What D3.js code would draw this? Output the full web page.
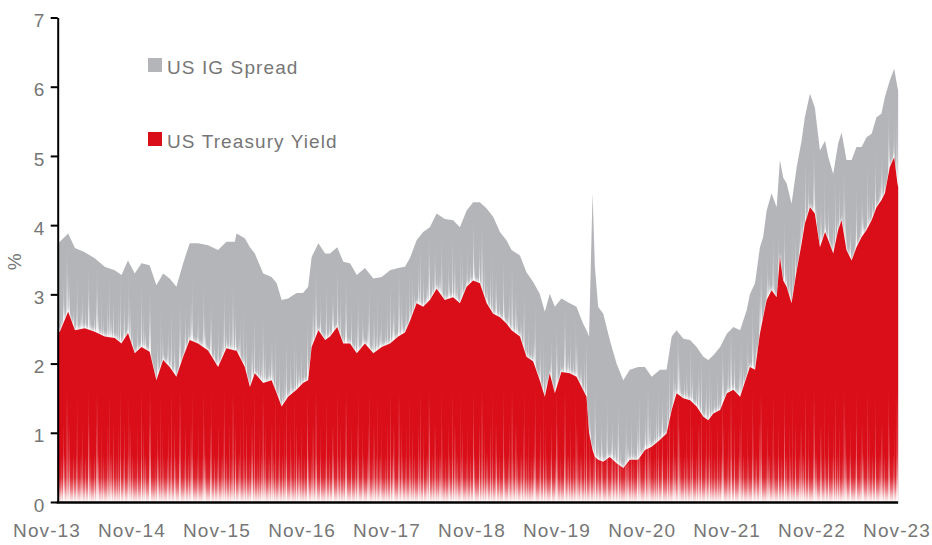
<!DOCTYPE html>
<html>
<head>
<meta charset="utf-8">
<script src="https://cdn.jsdelivr.net/npm/d3@7"></script>
<style>
  body { margin: 0; background: #fff; }
  text { font-family: "Liberation Sans", Arial, Helvetica, sans-serif; }
</style>
</head>
<body>
<svg id="chart" width="932" height="545"></svg>
<script>
// ---- data -------------------------------------------------------------
const dates = [
  "2013-12-17","2013-12-26","2014-01-31","2014-03-01","2014-04-12","2014-05-25","2014-07-07","2014-08-19",
  "2014-09-17","2014-10-15","2014-11-13","2014-12-12","2015-01-16","2015-02-14","2015-03-15","2015-04-12",
  "2015-05-11","2015-06-09","2015-07-07","2015-08-12","2015-09-24","2015-11-06","2015-12-12","2016-01-17",
  "2016-01-24","2016-02-29","2016-03-22","2016-04-12","2016-05-18","2016-06-23","2016-07-15","2016-08-05",
  "2016-09-02","2016-10-08","2016-11-05","2016-11-27","2016-12-12","2017-01-10","2017-02-08","2017-03-01",
  "2017-04-01","2017-04-27","2017-05-26","2017-06-24","2017-07-29","2017-09-03","2017-10-09","2017-11-14",
  "2017-12-19","2018-01-17","2018-02-07","2018-03-08","2018-04-05","2018-05-04","2018-06-02","2018-07-07",
  "2018-08-12","2018-09-10","2018-10-09","2018-11-06","2018-12-05","2019-01-03","2019-01-31","2019-03-01",
  "2019-03-29","2019-04-20","2019-05-26","2019-06-23","2019-07-22","2019-08-19","2019-09-10","2019-10-01",
  "2019-10-23","2019-11-20","2019-12-26","2020-01-24","2020-02-21","2020-03-07","2020-03-18","2020-04-02",
  "2020-04-12","2020-04-26","2020-05-18","2020-06-15","2020-07-14","2020-08-12","2020-09-09","2020-10-15",
  "2020-11-13","2020-12-12","2021-01-17","2021-02-14","2021-03-08","2021-03-29","2021-04-27","2021-05-26",
  "2021-06-23","2021-07-22","2021-08-12","2021-09-03","2021-10-02","2021-10-31","2021-11-28","2021-12-27",
  "2022-01-24","2022-02-07","2022-03-01","2022-03-22","2022-04-05","2022-04-20","2022-05-11","2022-06-02",
  "2022-06-16","2022-06-30","2022-07-15","2022-08-05","2022-08-27","2022-09-17","2022-10-01","2022-10-23",
  "2022-11-13","2022-12-05","2022-12-27","2023-01-10","2023-01-31","2023-02-21","2023-03-08","2023-03-29",
  "2023-04-20","2023-05-11","2023-06-02","2023-06-23","2023-07-15","2023-08-05","2023-08-26","2023-09-10",
  "2023-10-01","2023-10-20","2023-11-03","2023-11-06"
];

// US Treasury yield, %
const treasuryYield = [
  2.46,2.46,2.75,2.48,2.51,2.46,2.39,2.37,
  2.29,2.44,2.15,2.24,2.17,1.76,2.05,1.95,
  1.81,2.10,2.34,2.29,2.19,1.95,2.22,2.19,
  2.19,1.95,1.66,1.86,1.72,1.76,1.57,1.38,
  1.52,1.62,1.72,1.76,2.24,2.48,2.34,2.39,
  2.53,2.29,2.29,2.15,2.29,2.15,2.24,2.29,
  2.39,2.45,2.61,2.87,2.82,2.92,3.08,2.92,
  2.96,2.87,3.11,3.20,3.16,2.87,2.72,2.67,
  2.58,2.48,2.39,2.10,2.03,1.76,1.52,1.86,
  1.57,1.88,1.86,1.81,1.62,1.52,1.00,0.75,
  0.65,0.61,0.58,0.65,0.56,0.49,0.61,0.61,
  0.75,0.80,0.90,0.99,1.33,1.57,1.50,1.47,
  1.38,1.23,1.18,1.28,1.33,1.57,1.62,1.52,
  1.81,1.95,1.91,2.43,2.67,2.92,3.06,2.96,
  3.54,3.20,3.11,2.87,3.35,3.73,4.02,4.26,
  4.17,3.68,3.90,3.78,3.59,3.93,4.07,3.64,
  3.49,3.68,3.83,3.93,4.07,4.26,4.36,4.46,
  4.84,4.98,4.60,4.55
];

// US IG spread over Treasuries, %
const igSpread = [
  1.26,1.30,1.13,1.19,1.10,1.06,1.01,0.98,
  0.99,1.05,1.15,1.21,1.25,1.37,1.25,1.28,
  1.30,1.35,1.40,1.45,1.52,1.69,1.54,1.57,
  1.69,1.86,2.02,1.73,1.58,1.49,1.59,1.54,
  1.42,1.40,1.30,1.35,1.30,1.26,1.25,1.20,
  1.15,1.18,1.16,1.13,1.09,1.08,1.01,1.06,
  0.99,0.95,0.91,0.91,1.08,1.05,1.09,1.17,
  1.11,1.10,1.10,1.13,1.17,1.37,1.40,1.23,
  1.20,1.16,1.17,1.22,1.15,1.25,1.23,1.15,
  1.25,1.06,1.01,1.01,0.96,0.96,1.39,3.71,
  2.75,2.21,2.14,1.69,1.44,1.27,1.30,1.34,
  1.20,1.01,1.01,0.92,1.06,0.91,0.86,0.87,
  0.86,0.87,0.87,0.84,0.91,0.86,0.91,0.96,
  0.96,1.05,1.25,1.25,1.16,1.29,1.40,1.30,
  1.40,1.49,1.49,1.44,1.49,1.49,1.54,1.64,
  1.53,1.40,1.32,1.20,1.15,1.25,1.27,1.30,
  1.45,1.45,1.30,1.34,1.25,1.30,1.25,1.39,
  1.25,1.28,1.39,1.40
];

const yTicks = [0, 1, 2, 3, 4, 5, 6, 7];
const xTickLabels = ["Nov-13","Nov-14","Nov-15","Nov-16","Nov-17","Nov-18","Nov-19","Nov-20","Nov-21","Nov-22","Nov-23"];
const seriesKeys = ["treasury", "spread"];
const seriesNames = { spread: "US IG Spread", treasury: "US Treasury Yield" };
const seriesColors = { spread: "#b4b5b9", treasury: "#da0e19" };

// ---- setup ------------------------------------------------------------
const W = 932, H = 545;
const svg = d3.select("#chart");
const defs = svg.append("defs");

const parseDay = d3.utcParse("%Y-%m-%d");
const parseTick = d3.utcParse("%b-%y");
const tickDates = xTickLabels.map(parseTick);

const rows = dates.map((d, i) => ({
  date: parseDay(d),
  treasury: treasuryYield[i],
  spread: igSpread[i]
}));

const x = d3.scaleUtc()
  .domain([tickDates[0], tickDates[tickDates.length - 1]])
  .range([47, 897]);
const y = d3.scaleLinear().domain([0, 7]).range([502, 17.5]);

const stacked = d3.stack().keys(seriesKeys)(rows);
const area = d3.area()
  .x(d => x(d.data.date))
  .y0(d => y(d[0]))
  .y1(d => y(d[1]))
  .curve(d3.curveLinear);
const totalArea = d3.area()
  .x(d => x(d.data.date))
  .y0(y(0))
  .y1(d => y(d[1]))
  .curve(d3.curveLinear);

const redPath = area(stacked[0]);
const totalPath = totalArea(stacked[1]);
const xStart = x(rows[0].date), xEnd = x(rows[rows.length - 1].date);

// ---- streak masks (thin vertical lines of uneven spacing) --------------
function stripeMask(id, period, offsets, opac) {
  const p = defs.append("pattern").attr("id", "pat-" + id)
    .attr("patternUnits", "userSpaceOnUse")
    .attr("x", 0).attr("y", 0).attr("width", period).attr("height", H);
  offsets.forEach((o, k) => {
    p.append("rect").attr("x", o).attr("y", 0).attr("width", 1).attr("height", H)
      .attr("fill", "#fff").attr("fill-opacity", opac[k % opac.length]);
  });
  defs.append("mask").attr("id", "mask-" + id)
    .attr("maskUnits", "userSpaceOnUse")
    .attr("x", 0).attr("y", 0).attr("width", W).attr("height", H)
    .append("rect").attr("x", 0).attr("y", 0).attr("width", W).attr("height", H)
    .attr("fill", `url(#pat-${id})`);
}
stripeMask("a", 47, [0, 3, 4, 9, 14, 16, 17, 22, 26, 29, 33, 34, 38, 43], [0.9, 0.55, 1, 0.7, 0.45, 0.8]);
stripeMask("b", 61, [2, 7, 8, 15, 21, 27, 28, 35, 40, 46, 52, 57], [1, 0.6, 0.85, 0.5, 0.75]);
stripeMask("c", 83, [5, 13, 14, 26, 37, 45, 58, 66, 67, 77], [0.9, 0.55, 1, 0.7]);

// fade-to-white gradients anchored at the zero line
function whiteFade(id, height, alpha) {
  const g = defs.append("linearGradient").attr("id", id)
    .attr("gradientUnits", "userSpaceOnUse")
    .attr("x1", 0).attr("x2", 0).attr("y1", y(0)).attr("y2", y(0) - height);
  g.append("stop").attr("offset", 0).attr("stop-color", "#fff").attr("stop-opacity", alpha);
  g.append("stop").attr("offset", 0.4).attr("stop-color", "#fff").attr("stop-opacity", alpha * 0.4);
  g.append("stop").attr("offset", 1).attr("stop-color", "#fff").attr("stop-opacity", 0);
}
whiteFade("fadeA", 50, 0.8);
whiteFade("fadeB", 80, 0.7);
whiteFade("fadeC", 112, 0.6);

// base red fill: solid red that turns pale right at the zero line
const redGrad = defs.append("linearGradient").attr("id", "redGrad")
  .attr("gradientUnits", "userSpaceOnUse")
  .attr("x1", 0).attr("x2", 0).attr("y1", y(0)).attr("y2", y(0) - 45);
[[0, "#fdf1f1"], [0.12, "#f6c5c8"], [0.3, "#e9727a"], [0.55, "#dd2630"], [1, seriesColors.treasury]]
  .forEach(([o, c]) => redGrad.append("stop").attr("offset", o).attr("stop-color", c));

// vertical-only blurs used for the pale haze above the red layer
function vBlur(id, sd, slope) {
  const f = defs.append("filter").attr("id", id)
    .attr("filterUnits", "userSpaceOnUse")
    .attr("x", 0).attr("y", 0).attr("width", W).attr("height", H);
  f.append("feGaussianBlur").attr("stdDeviation", `0 ${sd}`);
  f.append("feComponentTransfer").append("feFuncA").attr("type", "linear").attr("slope", slope);
}
vBlur("blur1", 3, 1.8);
vBlur("blur2", 10, 1.7);
vBlur("blur3", 20, 1.6);
vBlur("blur4", 32, 1.5);

defs.append("clipPath").attr("id", "clipTotal").append("path").attr("d", totalPath);
defs.append("clipPath").attr("id", "clipRed").append("path").attr("d", redPath);

// ---- spread layer (drawn as full height, red goes over it) ------------
svg.append("path").attr("d", totalPath).attr("fill", seriesColors.spread);

const haze = svg.append("g").attr("clip-path", "url(#clipTotal)");
haze.append("path").attr("d", redPath).attr("fill", "#fff").attr("filter", "url(#blur1)").attr("opacity", 0.9);
haze.append("path").attr("d", redPath).attr("fill", "#fff").attr("filter", "url(#blur2)").attr("mask", "url(#mask-a)");
haze.append("path").attr("d", redPath).attr("fill", "#fff").attr("filter", "url(#blur3)").attr("mask", "url(#mask-b)");
haze.append("path").attr("d", redPath).attr("fill", "#fff").attr("filter", "url(#blur4)").attr("mask", "url(#mask-c)");

// ---- treasury layer ----------------------------------------------------
svg.append("path").attr("d", redPath).attr("fill", "url(#redGrad)");
const streaks = svg.append("g").attr("clip-path", "url(#clipRed)");
[["fadeA", "mask-a", 50], ["fadeB", "mask-b", 80], ["fadeC", "mask-c", 112]].forEach(([f, m, h]) => {
  streaks.append("rect")
    .attr("x", xStart).attr("width", xEnd - xStart)
    .attr("y", y(0) - h).attr("height", h)
    .attr("fill", `url(#${f})`).attr("mask", `url(#${m})`);
});

// ---- axes --------------------------------------------------------------
const yAxis = d3.axisLeft(y).tickValues(yTicks).tickSize(7).tickSizeOuter(0).tickPadding(6.5)
  .tickFormat(d3.format("d"));
const ya = svg.append("g").attr("transform", `translate(${xStart},0)`).call(yAxis);
ya.select(".domain").attr("stroke", "#000").attr("stroke-width", 2);
ya.selectAll(".tick line").attr("stroke", "#000").attr("stroke-width", 2);
ya.selectAll(".tick text")
  .attr("fill", "#767676").attr("font-size", 19).attr("dy", "0.48em")
  .attr("font-family", "'Liberation Sans', Arial, sans-serif");

svg.append("line")
  .attr("x1", xStart - 1).attr("x2", xEnd)
  .attr("y1", y(0) + 0.5).attr("y2", y(0) + 0.5)
  .attr("stroke", "#000").attr("stroke-width", 2.3);

svg.append("g").selectAll("text").data(xTickLabels).join("text")
  .attr("x", (d, i) => x(tickDates[i]))
  .attr("y", 537)
  .attr("text-anchor", "middle")
  .attr("fill", "#767676").attr("font-size", 19).attr("letter-spacing", 1.1)
  .text(d => d);

svg.append("text")
  .attr("transform", `translate(21,${(y(3.5) + 2)}) rotate(-90)`)
  .attr("text-anchor", "middle")
  .attr("fill", "#767676").attr("font-size", 19)
  .text("%");

// ---- legend ------------------------------------------------------------
const legend = svg.append("g").attr("transform", "translate(148,58)");
["spread", "treasury"].forEach((k, i) => {
  const g = legend.append("g").attr("transform", `translate(0,${i * 74})`);
  g.append("rect").attr("width", 14).attr("height", 14).attr("fill", seriesColors[k]);
  g.append("text").attr("x", 19).attr("y", 15.5)
    .attr("fill", "#767676").attr("font-size", 19).attr("letter-spacing", 1.1)
    .text(seriesNames[k]);
});
</script>
</body>
</html>
